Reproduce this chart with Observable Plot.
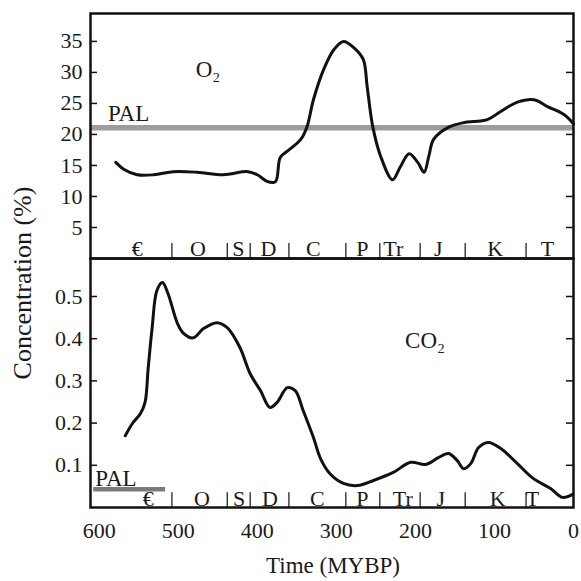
<!DOCTYPE html>
<html><head><meta charset="utf-8">
<script src="https://cdn.jsdelivr.net/npm/d3@7"></script>
<script src="https://cdn.jsdelivr.net/npm/@observablehq/plot@0.6"></script>
<style>
body{margin:0;background:#fff}
#wrap{position:relative;width:581px;height:581px;font-family:"Liberation Serif",serif;color:#1a1a1a;overflow:hidden}
#topPanel,#botPanel{position:absolute;left:0}
#topPanel{top:0}
#botPanel{top:258px}
#ylab{position:absolute;left:23px;top:283px;transform:translate(-50%,-50%) rotate(-90deg);font-size:26px;white-space:nowrap}
#xlab{position:absolute;left:333px;top:566px;transform:translate(-50%,-50%);font-size:23px;white-space:nowrap}
</style></head><body>
<div id="wrap"><div id="topPanel"></div><div id="botPanel"></div><div id="ylab">Concentration (%)</div><div id="xlab">Time (MYBP)</div></div>
<script>
// ---- data (time in million years before present) ----
const o2Time  = [579,569,552,531,506,476,443,412,400,387,377,371,362,345,337,329,316,303,291,278,266,261,254,244,229,219,208,197,189,183,177,159,139,109,92,71,50,33,12,0];
const o2Value = [15.5,14.4,13.5,13.5,14.0,13.9,13.5,14.0,13.5,12.4,12.4,16.3,17.3,19.2,21.3,25.6,30.5,33.7,35.0,34.0,32.1,27.7,21.3,16.5,12.7,14.8,16.9,15.5,13.9,16.5,19.2,21.1,21.9,22.4,23.7,25.2,25.6,24.5,23.2,21.7];
const co2Time  = [567,558,548,542,538,533,527,520,513,501,494,481,468,451,438,422,409,396,384,375,362,352,342,329,320,308,291,273,253,228,206,187,171,158,147,139,130,120,108,92,71,51,29,14,1];
const co2Value = [0.170,0.199,0.222,0.249,0.331,0.426,0.514,0.533,0.507,0.436,0.414,0.402,0.424,0.438,0.426,0.379,0.317,0.277,0.237,0.249,0.284,0.277,0.230,0.166,0.116,0.080,0.057,0.052,0.064,0.083,0.107,0.102,0.118,0.128,0.111,0.092,0.104,0.142,0.154,0.140,0.104,0.069,0.045,0.024,0.031];
const o2Pal = 21.1;
const co2Pal = 0.043;
const palCo2Span = [607, 516];
const periodNames = ["€","O","S","D","C","P","Tr","J","K","T"];
const periodMidTop = [552,475,424,386,329,267,228,171,99,33];
const periodMidBottom = [538,470,423,384,324,267,216,168,96,52];
const periodBounds = [508,438,409,360,288,245,194,137,60];
const o2Ticks = [5,10,15,20,25,30,35];
const co2Ticks = [0.1,0.2,0.3,0.4,0.5];
const xTicks = [600,500,400,300,200,100,0];

const o2Data = o2Time.map((t,i)=>({t, v:o2Value[i]}));
const co2Data = co2Time.map((t,i)=>({t, v:co2Value[i]}));
const xDomain = [611, 0];
const tickLen = 7 * xDomain[0] / 483; // 7px inward ticks in data units
const style = {fontFamily:"Liberation Serif", fontSize:"22px", color:"#1a1a1a", background:"transparent", overflow:"visible"};
const ink = "#111";

const topPlot = Plot.plot({
  width:581, height:259, marginTop:13, marginBottom:1, marginLeft:90, marginRight:8,
  x:{domain:xDomain, axis:null},
  y:{domain:[0,39.5], axis:null},
  style,
  marks:[
    Plot.ruleY([o2Pal], {stroke:"#9c9c9c", strokeWidth:5.5}),
    Plot.line(o2Data, {x:"t", y:"v", stroke:ink, strokeWidth:3, curve:"catmull-rom"}),
    Plot.axisY(o2Ticks, {tickSize:0, tickPadding:8, fontSize:22, label:null}),
    Plot.ruleY(o2Ticks, {x1:xDomain[0], x2:xDomain[0]-tickLen, stroke:ink, strokeWidth:1.5}),
    Plot.ruleY(o2Ticks, {x1:0, x2:tickLen, stroke:ink, strokeWidth:1.5}),
    Plot.ruleX(periodBounds, {y1:0, y2:2.4, stroke:"#222", strokeWidth:1.3}),
    Plot.text(periodNames, {x:(d,i)=>periodMidTop[i], text:d=>d, frameAnchor:"bottom", lineAnchor:"bottom", dy:-3, fontSize:22}),
    Plot.text(["PAL"], {x:589, y:22.1, text:d=>d, textAnchor:"start", lineAnchor:"bottom", fontSize:23}),
    Plot.text(["O₂"], {x:478, y:29.2, text:d=>d, textAnchor:"start", lineAnchor:"bottom", fontSize:23}),
    Plot.frame({stroke:ink, strokeWidth:2.5})
  ]
});
document.getElementById("topPanel").append(topPlot);

const botPlot = Plot.plot({
  width:581, height:323, marginTop:0, marginBottom:74, marginLeft:90, marginRight:8,
  x:{domain:xDomain, axis:null},
  y:{domain:[0,0.59], axis:null},
  style,
  marks:[
    Plot.ruleY([co2Pal], {x1:palCo2Span[0], x2:palCo2Span[1], stroke:"#7a7a7a", strokeWidth:4.5}),
    Plot.line(co2Data, {x:"t", y:"v", stroke:ink, strokeWidth:3, curve:"catmull-rom"}),
    Plot.axisY(co2Ticks, {tickSize:0, tickPadding:8, fontSize:22, tickFormat:d=>String(d), label:null}),
    Plot.ruleY(co2Ticks, {x1:xDomain[0], x2:xDomain[0]-tickLen, stroke:ink, strokeWidth:1.5}),
    Plot.ruleY(co2Ticks, {x1:0, x2:tickLen, stroke:ink, strokeWidth:1.5}),
    Plot.axisX(xTicks, {tickSize:0, tickPadding:15, fontSize:22, label:null}),
    Plot.ruleX(periodBounds, {y1:0, y2:0.035, stroke:"#222", strokeWidth:1.3}),
    Plot.text(periodNames, {x:(d,i)=>periodMidBottom[i], text:d=>d, frameAnchor:"bottom", lineAnchor:"bottom", dy:-2, fontSize:22}),
    Plot.text(["PAL"], {x:605, y:0.052, text:d=>d, textAnchor:"start", lineAnchor:"bottom", fontSize:23}),
    Plot.text(["CO₂"], {x:213, y:0.379, text:d=>d, textAnchor:"start", lineAnchor:"bottom", fontSize:23}),
    Plot.frame({stroke:ink, strokeWidth:2.5})
  ]
});
document.getElementById("botPanel").append(botPlot);
</script>
</body></html>
